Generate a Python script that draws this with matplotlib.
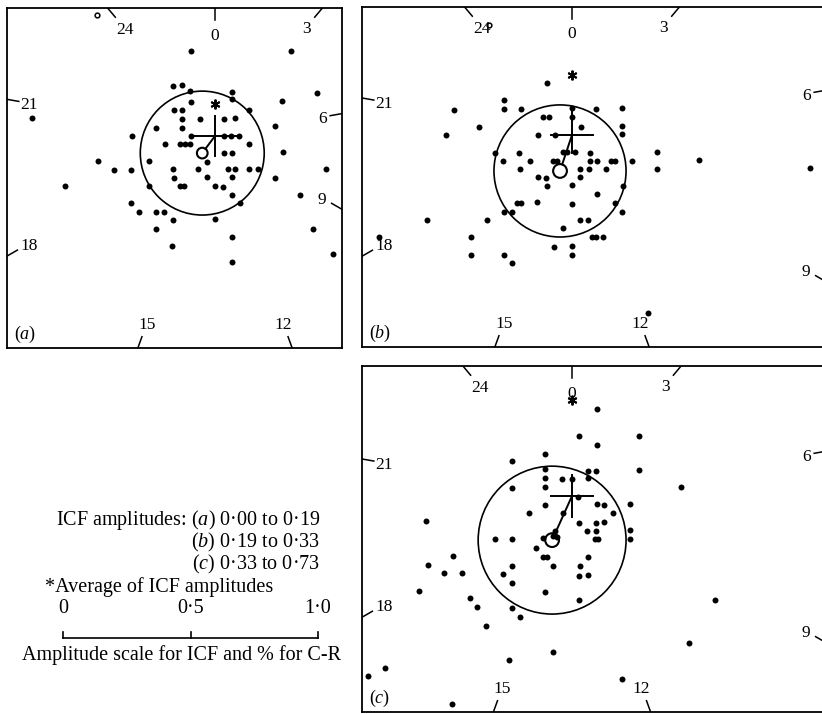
import numpy as np
import matplotlib
matplotlib.use('Agg')
from matplotlib import pyplot as plt

plt.rcParams['font.family'] = ['Liberation Serif', 'DejaVu Serif']
plt.rcParams['mathtext.fontset'] = 'custom'
plt.rcParams['mathtext.rm'] = 'Liberation Serif'
plt.rcParams['mathtext.it'] = 'Liberation Serif:italic'

# day-of-rotation labels round each dial (27-day cycle)
days = [0, 3, 6, 9, 12, 15, 18, 21, 24]
period = 27

# (a) ICF amplitudes 0.00 to 0.19  -- harmonic dial points (amplitude units)
a_x = [-0.094, 0.298, -0.165, -0.129, -0.098, 0.067, 0.400, -0.718, -0.094, 0.067,
       0.263, -0.161, -0.129, 0.133, -0.129, -0.059, 0.035, 0.078, -0.231, -0.129,
       0.235, -0.325, -0.094, 0.035, 0.063, 0.094, -0.196, -0.137, -0.118, -0.098,
       0.133, 0.035, 0.067, 0.267, -0.031, -0.259, -0.459, -0.396, -0.329, -0.165,
       -0.067, 0.051, 0.078, 0.133, 0.169, 0.435, -0.161, -0.031, 0.067, 0.235,
       -0.588, -0.259, -0.137, -0.122, 0.0, 0.031, 0.067, 0.333, -0.329, 0.098,
       -0.298, -0.231, -0.200, -0.165, 0.0, -0.231, 0.384, 0.067, -0.169, 0.463,
       0.067]
a_y = [0.333, 0.333, 0.196, 0.200, 0.176, 0.173, 0.169, 0.071, 0.133, 0.145,
       0.137, 0.102, 0.102, 0.102, 0.067, 0.067, 0.067, 0.071, 0.031, 0.031,
       0.039, 0.0, 0.0, 0.0, 0.0, 0.0, -0.031, -0.031, -0.031, -0.031,
       -0.031, -0.067, -0.067, -0.063, -0.102, -0.098, -0.098, -0.133, -0.133, -0.129,
       -0.129, -0.129, -0.129, -0.129, -0.129, -0.129, -0.165, -0.161, -0.161, -0.165,
       -0.196, -0.196, -0.196, -0.196, -0.196, -0.200, -0.231, -0.231, -0.263, -0.263,
       -0.298, -0.298, -0.298, -0.329, -0.325, -0.365, -0.365, -0.396, -0.431, -0.463,
       -0.494]

# (b) ICF amplitudes 0.19 to 0.33
b_x = [-0.098, -0.267, -0.267, -0.463, -0.200, 0.0, 0.094, 0.196, -0.114, -0.090,
       0.0, -0.365, 0.035, 0.196, -0.494, -0.133, -0.067, 0.196, -0.302, -0.208,
       -0.035, -0.020, 0.012, 0.071, 0.333, -0.271, -0.165, -0.075, -0.059, 0.071,
       0.098, 0.153, 0.169, 0.235, 0.498, -0.204, 0.031, 0.067, 0.133, 0.333,
       0.933, -0.133, -0.102, 0.031, -0.098, 0.0, 0.200, 0.098, -0.216, -0.200,
       -0.137, 0.0, 0.169, -0.267, -0.235, 0.196, -0.569, -0.333, 0.031, 0.063,
       -0.035, 0.078, 0.094, 0.122, -0.757, -0.396, -0.071, 0.0, -0.396, -0.267,
       0.0, -0.235, 0.298]
b_y = [0.204, 0.137, 0.102, 0.098, 0.102, 0.106, 0.102, 0.106, 0.071, 0.071,
       0.071, 0.031, 0.031, 0.035, 0.0, 0.0, 0.0, 0.004, -0.071, -0.071,
       -0.067, -0.067, -0.067, -0.071, -0.067, -0.102, -0.102, -0.102, -0.102, -0.102,
       -0.102, -0.102, -0.102, -0.102, -0.098, -0.133, -0.133, -0.133, -0.133, -0.133,
       -0.129, -0.165, -0.169, -0.165, -0.200, -0.196, -0.200, -0.231, -0.267, -0.267,
       -0.263, -0.271, -0.267, -0.302, -0.302, -0.302, -0.333, -0.333, -0.333, -0.333,
       -0.365, -0.400, -0.400, -0.400, -0.400, -0.400, -0.439, -0.435, -0.471, -0.471,
       -0.471, -0.502, -0.698]

# (c) ICF amplitudes 0.33 to 0.73
c_x = [0.098, 0.027, 0.263, 0.098, -0.106, -0.235, -0.106, 0.063, 0.094, 0.263,
       -0.106, -0.039, 0.0, 0.063, 0.427, -0.235, -0.106, 0.024, -0.106, 0.098,
       0.125, 0.227, -0.169, -0.035, 0.161, -0.573, 0.027, 0.094, 0.125, -0.067,
       0.059, 0.094, 0.227, -0.302, -0.235, -0.114, -0.075, -0.059, 0.090, 0.102,
       0.227, -0.141, -0.114, -0.098, 0.063, -0.467, -0.565, -0.235, -0.075, 0.031,
       -0.502, -0.431, -0.271, 0.027, 0.063, -0.235, -0.600, -0.106, -0.400, 0.027,
       0.561, -0.373, -0.235, -0.204, -0.337, 0.459, -0.075, -0.247, -0.733, -0.800,
       0.196, -0.471]
c_y = [0.341, 0.235, 0.235, 0.200, 0.165, 0.137, 0.106, 0.098, 0.098, 0.102,
       0.071, 0.067, 0.067, 0.071, 0.035, 0.031, 0.035, -0.004, -0.035, -0.031,
       -0.035, -0.031, -0.067, -0.067, -0.067, -0.098, -0.106, -0.106, -0.102, -0.137,
       -0.137, -0.137, -0.133, -0.169, -0.169, -0.165, -0.157, -0.161, -0.169, -0.169,
       -0.169, -0.204, -0.239, -0.239, -0.239, -0.235, -0.271, -0.275, -0.275, -0.275,
       -0.302, -0.302, -0.306, -0.314, -0.310, -0.341, -0.373, -0.376, -0.400, -0.408,
       -0.408, -0.435, -0.439, -0.475, -0.510, -0.576, -0.612, -0.643, -0.675, -0.706,
       -0.718, -0.816]

# C-R mean vector, its error circle, ICF average (*), cross arms (h, up, down)
a_mean, a_err, a_small = (-0.050, -0.067), 0.243, 0.021
b_mean, b_err, b_small = (-0.047, -0.141), 0.259, 0.027
c_mean, c_err, c_small = (-0.078, -0.173), 0.290, 0.027
a_star, b_star, c_star = (0.0, 0.125), (0.0, 0.235), (0.0, 0.376)
a_cross, b_cross, c_cross = (0.088, 0.08, 0.08), (0.083, 0.106, 0.07), (0.083, 0.083, 0.083)
a_open, b_open = (-0.463, 0.475), (-0.325, 0.431)

legend_lines = ['ICF amplitudes: ($a$) 0·00 to 0·19',
                '($b$) 0·19 to 0·33',
                '($c$) 0·33 to 0·73']
scale_ticks = [0, 0.5, 1.0]
scale_labels = ['0', '0·5', '1·0']

W, H = 822, 714
S = 255.0   # pixels per unit amplitude

fig = plt.figure(figsize=(W / 100, H / 100), dpi=100)
fig.patch.set_facecolor('white')


def fpos(x, y):
    return x / W, 1 - y / H


def dial(box, origin, xs, ys, mean, err, small, star, cross, tag, opn=None):
    x0, y0, x1, y1 = box
    ox, oy = origin
    ax = fig.add_axes([x0 / W, 1 - y1 / H, (x1 - x0) / W, (y1 - y0) / H])
    xmin, xmax = (x0 - ox) / S, (x1 - ox) / S
    ymin, ymax = (oy - y1) / S, (oy - y0) / S
    ax.set_xlim(xmin, xmax)
    ax.set_ylim(ymin, ymax)
    ax.set_xticks([])
    ax.set_yticks([])
    for sp in ax.spines.values():
        sp.set_linewidth(1.3)

    # day ticks on the frame, pointing to the origin
    L = 12 / S
    for d in days:
        th = np.radians(d * 360.0 / period)
        ux, uy = np.sin(th), np.cos(th)
        ts = []
        if ux > 1e-9: ts.append(xmax / ux)
        if ux < -1e-9: ts.append(xmin / ux)
        if uy > 1e-9: ts.append(ymax / uy)
        if uy < -1e-9: ts.append(ymin / uy)
        t = min(ts)
        px, py = t * ux, t * uy
        ax.plot([px, px - L * ux], [py, py - L * uy], color='k', lw=1.1)
        lab = str(d)
        half = 0.5 * (5 * len(lab) * abs(ux) + 19 * abs(uy)) / S
        dd = L + 4 / S + half
        ax.text(px - dd * ux, py - dd * uy, lab, ha='center', va='center_baseline',
                fontsize=12.5)

    ax.plot(xs, ys, 'o', ms=4.3, color='k', mew=0)
    ax.add_patch(plt.Circle(mean, err, fill=False, lw=1.2, color='k'))
    ax.add_patch(plt.Circle(mean, small, fill=False, lw=1.5, color='k'))
    r = np.hypot(*mean)
    ex, ey = mean[0] * (1 - small / r), mean[1] * (1 - small / r)
    ax.plot([ex, 0], [ey, 0], color='k', lw=1.4)
    h, up, dn = cross
    ax.plot([-h, h], [0, 0], color='k', lw=1.4)
    ax.plot([0, 0], [-dn, up], color='k', lw=1.4)
    ax.plot(*star, marker=(6, 2, 0), ms=7, mew=1.4, color='k')
    if opn is not None:
        ax.plot(*opn, 'o', ms=3.4, mfc='white', mec='k', mew=1.1)
    fig.text(*fpos(x0 + 7, y1 - 9), tag, ha='left', va='baseline', fontsize=13)
    return ax


dial((7, 8, 342, 348), (215, 136), a_x, a_y, a_mean, a_err, a_small, a_star, a_cross,
     '($a$)', a_open)
dial((362, 7, 826, 347), (572, 135), b_x, b_y, b_mean, b_err, b_small, b_star, b_cross,
     '($b$)', b_open)
dial((362, 366, 826, 712), (572, 496), c_x, c_y, c_mean, c_err, c_small, c_star, c_cross,
     '($c$)')

# key
fs = 14.5
fig.text(*fpos(320, 525), legend_lines[0], ha='right', va='baseline', fontsize=fs)
fig.text(*fpos(320, 547), legend_lines[1], ha='right', va='baseline', fontsize=fs)
fig.text(*fpos(320, 569), legend_lines[2], ha='right', va='baseline', fontsize=fs)
fig.text(*fpos(45, 592), '*Average of ICF amplitudes', ha='left', va='baseline', fontsize=fs)

# amplitude scale bar
bx0, by = 63, 638
fig.add_artist(plt.Line2D([fpos(bx0, by)[0], fpos(bx0 + S, by)[0]],
                          [fpos(0, by)[1]] * 2, color='k', lw=1.2))
for v, lab in zip(scale_ticks, scale_labels):
    xx = bx0 + v * S
    fig.add_artist(plt.Line2D([fpos(xx, 0)[0]] * 2, [fpos(0, by)[1], fpos(0, by - 6)[1]],
                              color='k', lw=1.2))
    fig.text(*fpos(xx, 613), lab, ha='center', va='baseline', fontsize=fs)
fig.text(*fpos(22, 660), 'Amplitude scale for ICF and % for C-R', ha='left',
         va='baseline', fontsize=fs)

fig.savefig('out.png', dpi=100, facecolor='white')
